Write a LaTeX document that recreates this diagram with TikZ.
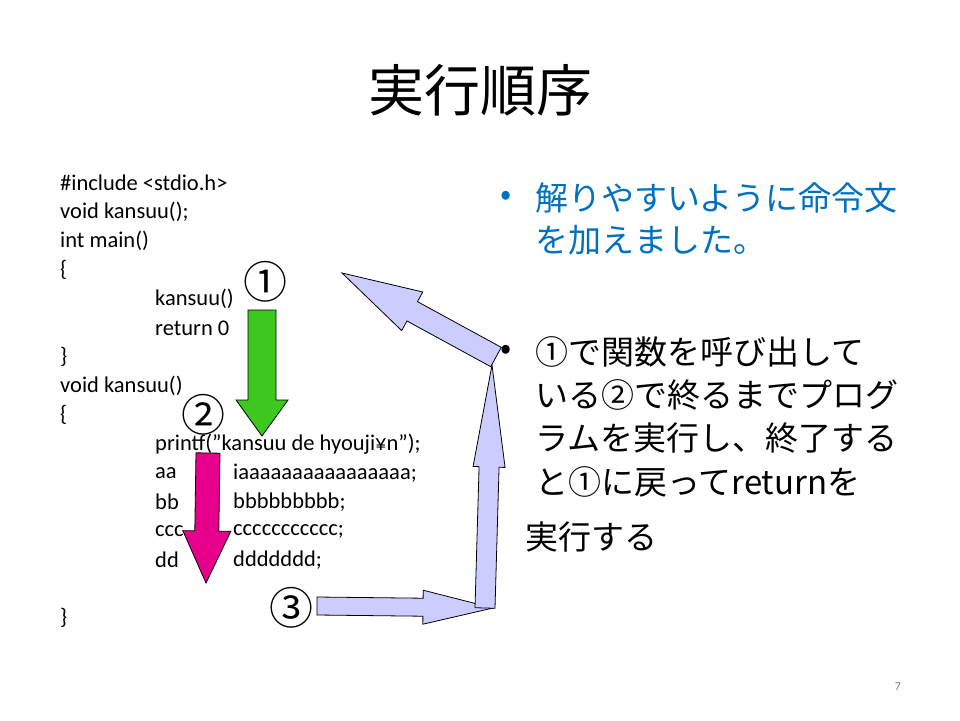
\documentclass[tikz,border=0pt]{standalone}
\usepackage{fontspec}
\setmainfont{Carlito}
\newfontfamily\jp{Noto Sans CJK JP}
\usetikzlibrary{calc}
\definecolor{keyblue}{HTML}{0070C0}
\definecolor{callgreen}{HTML}{3CC81E}
\definecolor{retpink}{HTML}{E6008C}
\definecolor{flowlav}{HTML}{CCCCFF}
\tikzset{
  codeline/.style={anchor=west,inner sep=0pt,font=\fontsize{22.5}{22.5}\selectfont},
  bodyline/.style={anchor=west,inner sep=0pt,font=\jp\fontsize{33}{33}\selectfont},
  stepnum/.style={inner sep=0pt,font=\jp\fontsize{44}{44}\selectfont}
}
% block arrow from #1 to #2: half shaft #3, half head #4, head length #5
\newcommand\blockarrow[6]{%
  \fill[#6,draw=black,line width=.8pt]
    ($(#1)!#3!90:(#2)$) -- ($($(#2)!#5!(#1)$)!#3!90:(#2)$)
    -- ($($(#2)!#5!(#1)$)!#4!90:(#2)$) -- (#2)
    -- ($($(#2)!#5!(#1)$)!#4!-90:(#2)$) -- ($($(#2)!#5!(#1)$)!#3!-90:(#2)$)
    -- ($(#1)!#3!-90:(#2)$) -- cycle;}
\begin{document}
\begin{tikzpicture}[x=1pt,y=-1pt]
  \useasboundingbox[fill=white] (0,0) rectangle (960,720);
  \node[font=\jp\fontsize{56}{56}\selectfont] (title) at (480,90) {実行順序};
  % code
  \node[codeline] (c1) at (60,183) {\#include <stdio.h>};
  \node[codeline] (c2) at (60,212) {void kansuu();};
  \node[codeline] (c3) at (60,241) {int main()};
  \node[codeline] (c4) at (60,270) {\{};
  \node[codeline] (c5) at (155,299) {kansuu()};
  \node[codeline] (c6) at (155,328) {return 0};
  \node[codeline] (c7) at (60,357) {\}};
  \node[codeline] (c8) at (60,386) {void kansuu()};
  \node[codeline] (c9) at (60,415) {\{};
  \node[codeline] (c10) at (155,444) {printf(\symbol{34}kansuu de hyouji¥n\symbol{34});};
  \node[codeline] (c11a) at (155,473) {aa};
  \node[codeline] (c11b) at (233,473) {iaaaaaaaaaaaaaaaa;};
  \node[codeline] (c12a) at (155,502) {bb};
  \node[codeline] (c12b) at (233,502) {bbbbbbbbb;};
  \node[codeline] (c13a) at (155,531) {ccc};
  \node[codeline] (c13b) at (233,531) {ccccccccccc;};
  \node[codeline] (c14a) at (155,560) {dd};
  \node[codeline] (c14b) at (233,560) {ddddddd;};
  \node[codeline] (c15) at (60,618) {\}};
  % step marks
  \node[stepnum] (s1) at (265,282) {①};
  \node[stepnum] (s2) at (203,415) {②};
  \node[stepnum] (s3) at (291,608) {③};
  % arrows
  \coordinate (g0) at (262,310); \coordinate (g1) at (262,436);
  \blockarrow{g0}{g1}{14pt}{26pt}{36pt}{callgreen}
  \coordinate (p0) at (208,453); \coordinate (p1) at (206,583);
  \blockarrow{p0}{p1}{12pt}{24pt}{52pt}{retpink}
  \coordinate (f0) at (317,606); \coordinate (f1) at (493,608);
  \blockarrow{f0}{f1}{9pt}{17pt}{70pt}{flowlav}
  \coordinate (u0) at (485,608); \coordinate (u1) at (492,365);
  \blockarrow{u0}{u1}{10pt}{16pt}{102pt}{flowlav}
  \coordinate (d0) at (496,357); \coordinate (d1) at (342,273);
  \blockarrow{d0}{d1}{11pt}{22pt}{80pt}{flowlav}
  % right text
  \node[bodyline,text=keyblue] (b1) at (500,198) {•};
  \node[bodyline,text=keyblue] (t1) at (535,198) {解りやすいように命令文};
  \node[bodyline,text=keyblue] (t2) at (535,240) {を加えました。};
  \node[bodyline] (b2) at (500,352) {•};
  \node[bodyline] (t3) at (535,352) {①で関数を呼び出して};
  \node[bodyline] (t4) at (535,395) {いる②で終るまでプログ};
  \node[bodyline] (t5) at (535,438) {ラムを実行し、終了する};
  \node[bodyline] (t6) at (535,482) {と①に戻ってreturnを};
  \node[bodyline] (t7) at (525,537) {実行する};
  \node[text=gray,font=\fontsize{12}{12}\selectfont] (pg) at (898,687) {7};
\end{tikzpicture}
\end{document}
